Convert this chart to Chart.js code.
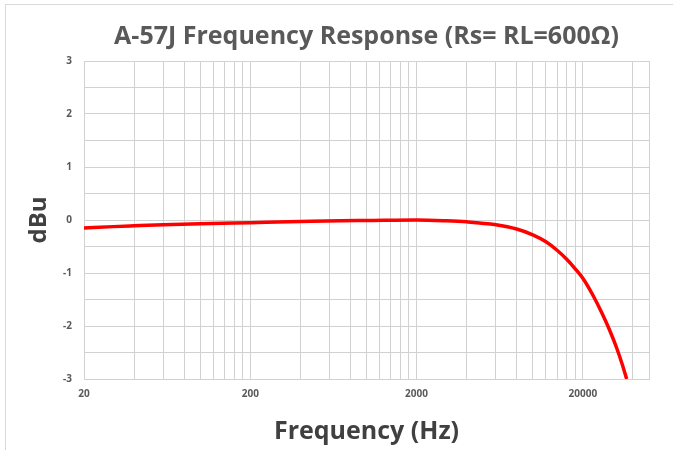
<!DOCTYPE html>
<html>
<head>
<meta charset="utf-8">
<script src="https://cdn.jsdelivr.net/npm/chart.js@4/dist/chart.umd.min.js"></script>
<style>
  html, body { margin: 0; padding: 0; background: #fff; }
  #wrap { position: relative; width: 673px; height: 450px; overflow: hidden; }
  #frame { position: absolute; left: 5px; top: 4px; width: 700px; height: 500px;
           border-left: 1px solid #d9d9d9; border-top: 1px solid #d9d9d9; box-sizing: border-box; }
  canvas { position: absolute; left: 0; top: 0; }
</style>
</head>
<body>
<div id="wrap">
  <div id="frame"></div>
  <canvas id="c" width="673" height="450"></canvas>
</div>
<script>
// ---- Data ----
const titleText = 'A-57J Frequency Response (Rs= RL=600Ω)';
const xTitle = 'Frequency (Hz)';
const yTitle = 'dBu';

const freqs = [20, 30, 40, 60, 100, 200, 400, 700, 1000, 2000, 3000, 4000, 6000, 8000,
               10000, 12000, 14000, 16000, 18000, 20000, 23000, 26000, 29000, 32000, 34500, 36700];
const dbu   = [-0.15, -0.125, -0.11, -0.09, -0.07, -0.05, -0.03, -0.015, -0.01, 0, -0.015, -0.035, -0.09, -0.17,
               -0.28, -0.41, -0.57, -0.74, -0.92, -1.1, -1.42, -1.75, -2.08, -2.42, -2.72, -3.0];

const xGridValues = [20, 40, 60, 80, 100, 120, 140, 160, 180,
                     200, 400, 600, 800, 1000, 1200, 1400, 1600, 1800,
                     2000, 4000, 6000, 8000, 10000, 12000, 14000, 16000, 18000,
                     20000, 40000, 50000];
const xTickLabels = [20, 200, 2000, 20000];
const yMin = -3, yMax = 3, yGridStep = 0.5;

const points = freqs.map((f, i) => ({ x: f, y: dbu[i] }));

const FONT = "'Open Sans', 'Liberation Sans', sans-serif";

new Chart(document.getElementById('c'), {
  type: 'line',
  data: {
    datasets: [{
      data: points,
      borderColor: '#ff0000',
      borderWidth: 3.5,
      pointRadius: 0,
      fill: false,
      cubicInterpolationMode: 'monotone'
    }]
  },
  options: {
    responsive: false,
    animation: false,
    layout: { padding: { left: 0, right: 24, top: 0, bottom: 0 } },
    plugins: {
      legend: { display: false },
      tooltip: { enabled: false },
      title: {
        display: true,
        text: titleText,
        fullSize: false,
        color: '#595959',
        font: { family: FONT, size: 25, weight: 'bold' },
        padding: { top: 22, bottom: 9 }
      }
    },
    scales: {
      x: {
        type: 'logarithmic',
        min: 20,
        max: 50000,
        afterBuildTicks: (s) => { s.ticks = xGridValues.map(v => ({ value: v })); },
        afterFit: (s) => { s.height = 71; },
        grid: { color: '#d2d2d2', lineWidth: 1, drawTicks: false },
        border: { color: '#d2d2d2' },
        ticks: {
          autoSkip: false,
          maxRotation: 0,
          padding: 9,
          color: '#595959',
          font: { family: FONT, size: 10, weight: 'bold' },
          callback: (v) => xTickLabels.includes(v) ? String(v) : ''
        },
        title: {
          display: true,
          text: xTitle,
          color: '#404040',
          font: { family: FONT, size: 25, weight: 'bold' },
          padding: { top: 0, bottom: 3 }
        }
      },
      y: {
        min: yMin,
        max: yMax,
        afterFit: (s) => { s.width = 84; },
        grid: { color: '#d2d2d2', lineWidth: 1, drawTicks: false },
        border: { color: '#d2d2d2' },
        ticks: {
          stepSize: yGridStep,
          padding: 12,
          color: '#595959',
          font: { family: FONT, size: 10, weight: 'bold' },
          callback: (v) => Number.isInteger(v) ? String(v) : ''
        },
        title: {
          display: true,
          text: yTitle,
          color: '#404040',
          font: { family: FONT, size: 24, weight: 'bold' },
          padding: { top: 25, bottom: 0 }
        }
      }
    }
  }
});
</script>
</body>
</html>
